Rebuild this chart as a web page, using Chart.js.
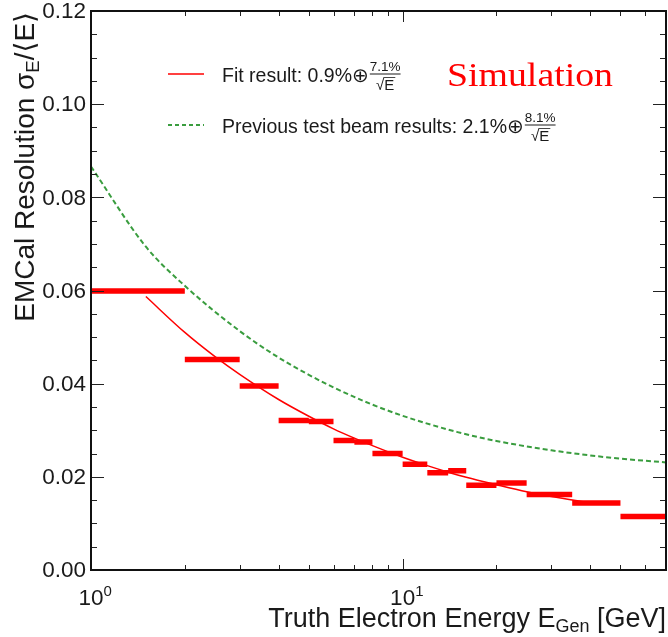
<!DOCTYPE html>
<html>
<head>
<meta charset="utf-8">
<script src="https://cdn.jsdelivr.net/npm/chart.js@4/dist/chart.umd.min.js"></script>
<style>
  html, body { margin: 0; background: #fff; }
  #res { display: block; }
</style>
</head>
<body>
<canvas id="res" width="668" height="637"></canvas>
<script>
// energy bins of the simulated points and their resolution
const binLow  = [1, 2, 3, 4, 5, 6, 7, 8, 10, 12, 14, 16, 20, 25, 35, 50];
const binHigh = [2, 3, 4, 5, 6, 7, 8, 10, 12, 14, 16, 20, 25, 35, 50, 70];
const resolution = [0.0599, 0.0452, 0.0395, 0.0321, 0.0319, 0.0278, 0.0275, 0.0250,
                    0.0227, 0.0209, 0.0213, 0.0182, 0.0187, 0.0162, 0.0144, 0.0115];

// fit curve, 0.9% (+) 7.1%/sqrt(E)
const fitE   = [1.5, 2, 2.5, 3, 4, 5, 6, 7, 8, 10, 12, 14, 16, 20, 25, 30, 40];
const fitRes = [0.0587, 0.0510, 0.0458, 0.0420, 0.0366, 0.0330, 0.0303, 0.0283, 0.0267,
                0.0242, 0.0224, 0.0210, 0.0199, 0.0183, 0.0168, 0.0158, 0.0144];

// previous test beam, 2.1% (+) 8.1%/sqrt(E)
const beamE   = [1, 1.5, 2, 3, 4, 5, 6, 8, 10, 15, 20, 30, 40, 50, 70];
const beamRes = [0.0866, 0.0694, 0.0610, 0.0513, 0.0456, 0.0419, 0.0392, 0.0355,
                 0.0331, 0.0296, 0.0277, 0.0257, 0.0246, 0.0239, 0.0231];

// axis ticks
const yTicks = [0, 0.005, 0.01, 0.015, 0.02, 0.025, 0.03, 0.035, 0.04, 0.045, 0.05, 0.055,
                0.06, 0.065, 0.07, 0.075, 0.08, 0.085, 0.09, 0.095, 0.1, 0.105, 0.11, 0.115, 0.12];
const yLabels = [0, 0.02, 0.04, 0.06, 0.08, 0.10, 0.12];
const xMajor = [1, 10];
const xExponent = ['0', '1'];
const xMinor = [2, 3, 4, 5, 6, 7, 8, 9, 20, 30, 40, 50, 60];

const SANS = '"Liberation Sans", Arial, "DejaVu Sans", sans-serif';
const RED = '#ff0000';
const GREEN = '#3a9d3f';

// horizontal segments, one per bin, separated by gaps
const binPoints = [];
binLow.forEach((lo, i) => {
  binPoints.push({ x: lo, y: resolution[i] }, { x: binHigh[i], y: resolution[i] }, { x: binHigh[i], y: null });
});

// draw a run of text pieces [text, size, dy] starting at x; returns the end x
function textRun(ctx, x, y, parts, measureOnly) {
  for (const [t, size, dy] of parts) {
    ctx.font = `${size}px ${SANS}`;
    if (!measureOnly) ctx.fillText(t, x, y + (dy || 0));
    x += ctx.measureText(t).width;
  }
  return x;
}

// small "num / sqrt(E)" fraction, returns its width
function fraction(ctx, x, yBar, num) {
  ctx.font = `13.5px ${SANS}`;
  const nw = ctx.measureText(num).width;
  ctx.textBaseline = 'alphabetic';
  ctx.fillText(num, x, yBar - 3);
  ctx.fillRect(x, yBar - 0.5, nw, 1);
  ctx.font = `15px ${SANS}`;
  const rw = ctx.measureText('\u221A').width;
  const ew = ctx.measureText('E').width;
  const dx = x + (nw - rw - ew) / 2;
  ctx.fillText('\u221A', dx, yBar + 16);
  ctx.fillText('E', dx + rw, yBar + 16);
  ctx.fillRect(dx + rw - 1, yBar + 3, ew + 2, 0.8);
  return nw;
}

const framePlugin = {
  id: 'frame',
  afterDraw(chart) {
    const { ctx, chartArea: a, scales: { x, y } } = chart;
    ctx.save();

    // ticks on all four sides, pointing inward
    ctx.strokeStyle = '#222';
    ctx.lineWidth = 1;
    ctx.beginPath();
    yTicks.forEach(v => {
      const py = Math.round(y.getPixelForValue(v)) + 0.5;
      const len = yLabels.some(l => Math.abs(l - v) < 1e-9) ? 13 : 6;
      ctx.moveTo(a.left, py); ctx.lineTo(a.left + len, py);
      ctx.moveTo(a.right, py); ctx.lineTo(a.right - len, py);
    });
    xMajor.concat(xMinor).forEach(v => {
      const px = Math.round(x.getPixelForValue(v)) + 0.5;
      const len = xMajor.includes(v) ? 11 : 5;
      ctx.moveTo(px, a.bottom); ctx.lineTo(px, a.bottom - len);
      ctx.moveTo(px, a.top); ctx.lineTo(px, a.top + len);
    });
    ctx.stroke();

    ctx.strokeStyle = '#111';
    ctx.lineWidth = 2;
    ctx.strokeRect(a.left, a.top, a.right - a.left, a.bottom - a.top);

    ctx.fillStyle = '#1a1a1a';

    // y tick labels
    ctx.font = `22.5px ${SANS}`;
    ctx.textAlign = 'right';
    ctx.textBaseline = 'middle';
    yLabels.forEach(v => ctx.fillText(v.toFixed(2), a.left - 5, y.getPixelForValue(v) + 1));

    // x tick labels, 10^n
    ctx.textAlign = 'left';
    ctx.textBaseline = 'alphabetic';
    xMajor.forEach((v, i) => {
      const px = x.getPixelForValue(v);
      ctx.font = `22.5px ${SANS}`;
      const w = ctx.measureText('10').width;
      textRun(ctx, px - w / 2, 605, [['10', 22.5, 0], [xExponent[i], 15, -9]]);
    });

    // x title, right aligned
    const xTitle = [['Truth Electron Energy E', 27, 0], ['Gen', 18, 5], [' [GeV]', 27, 0]];
    const xw = textRun(ctx, 0, 0, xTitle, true);
    textRun(ctx, a.right - xw, 627, xTitle);

    // y title, rotated, ending at the top
    const yTitle = [['EMCal Resolution \u03C3', 28, 0], ['E', 18.5, 5], ['/\u27E8E\u27E9', 28, 0]];
    const yw = textRun(ctx, 0, 0, yTitle, true);
    ctx.save();
    ctx.translate(34, 12);
    ctx.rotate(-Math.PI / 2);
    textRun(ctx, -yw, 0, yTitle);
    ctx.restore();

    // legend
    ctx.lineWidth = 1.5;
    ctx.strokeStyle = RED;
    ctx.beginPath(); ctx.moveTo(168, 74); ctx.lineTo(204, 74); ctx.stroke();
    ctx.strokeStyle = GREEN;
    ctx.lineWidth = 2;
    ctx.setLineDash([4, 3]);
    ctx.beginPath(); ctx.moveTo(168, 125); ctx.lineTo(204, 125); ctx.stroke();
    ctx.setLineDash([]);

    ctx.fillStyle = '#1a1a1a';
    ctx.textBaseline = 'alphabetic';
    let ex = textRun(ctx, 222, 82, [['Fit result: 0.9%', 19.5, 0]]);
    ctx.font = `20px "DejaVu Sans", ${SANS}`;
    ctx.fillText('\u2295', ex, 82);
    ex += ctx.measureText('\u2295').width + 1;
    fraction(ctx, ex, 74, '7.1%');

    ex = textRun(ctx, 222, 133, [['Previous test beam results: 2.1%', 19.5, 0]]);
    ctx.font = `20px "DejaVu Sans", ${SANS}`;
    ctx.fillText('\u2295', ex, 133);
    ex += ctx.measureText('\u2295').width + 1;
    fraction(ctx, ex, 125, '8.1%');

    // Simulation tag
    ctx.fillStyle = RED;
    ctx.font = '34px "Liberation Serif", "Times New Roman", serif';
    const sw = ctx.measureText('Simulation').width;
    ctx.save();
    ctx.translate(447, 86);
    ctx.scale(166 / sw, 1);
    ctx.fillText('Simulation', 0, 0);
    ctx.restore();

    ctx.restore();
  }
};

new Chart(document.getElementById('res'), {
  type: 'line',
  data: {
    datasets: [
      {
        data: binPoints,
        borderColor: RED,
        borderWidth: 5.5,
        borderCapStyle: 'butt',
        pointRadius: 0,
        spanGaps: false
      },
      {
        data: fitE.map((e, i) => ({ x: e, y: fitRes[i] })),
        borderColor: RED,
        borderWidth: 1.5,
        pointRadius: 0,
        cubicInterpolationMode: 'monotone'
      },
      {
        data: beamE.map((e, i) => ({ x: e, y: beamRes[i] })),
        borderColor: GREEN,
        borderWidth: 2,
        borderDash: [5, 3],
        pointRadius: 0,
        cubicInterpolationMode: 'monotone'
      }
    ]
  },
  options: {
    responsive: false,
    animation: false,
    devicePixelRatio: 1,
    layout: { padding: { top: 11, right: 2, left: 0, bottom: 0 } },
    plugins: { legend: { display: false }, tooltip: { enabled: false } },
    scales: {
      x: {
        type: 'logarithmic', min: 1, max: 70,
        ticks: { display: false },
        grid: { display: false },
        border: { display: false },
        afterFit(s) { s.height = 67; }
      },
      y: {
        min: 0, max: 0.12,
        ticks: { display: false },
        grid: { display: false },
        border: { display: false },
        afterFit(s) { s.width = 91; }
      }
    }
  },
  plugins: [framePlugin]
});
</script>
</body>
</html>
